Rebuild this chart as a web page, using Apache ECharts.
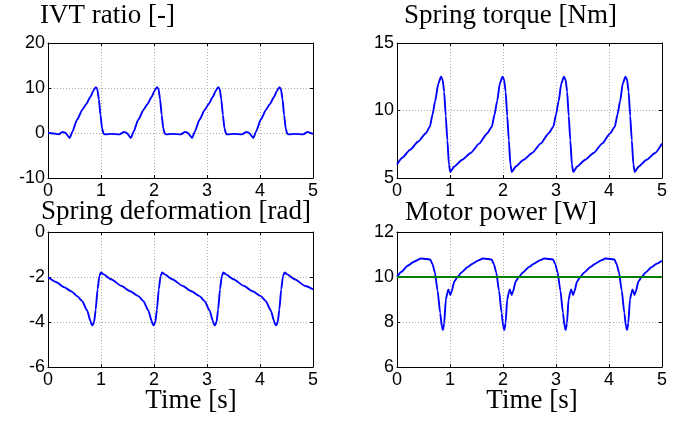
<!DOCTYPE html>
<html>
<head>
<meta charset="utf-8">
<script src="https://cdn.jsdelivr.net/npm/echarts@6/dist/echarts.min.js"></script>
<style>
  html, body { margin: 0; padding: 0; background: #fff; }
  #chart { width: 688px; height: 426px; }
</style>
</head>
<body>
<div id="chart"></div>
<script>
// time ticks shared by all four panels
const timeTicks = [0, 1, 2, 3, 4, 5]

// IVT ratio [-]
const ivtTicks = [-10, 0, 10, 20]
const ivtTime = [
  0, 0.1, 0.2, 0.28, 0.33, 0.41, 0.46, 0.55, 0.65, 0.72, 0.8, 0.85, 0.9, 0.93, 0.96, 0.99, 1.02, 1.05, 1.08, 1.2, 1.35,
  1.435, 1.485, 1.565, 1.615, 1.705, 1.805, 1.875, 1.955, 2.005, 2.055, 2.085, 2.115, 2.145, 2.175, 2.205, 2.235, 2.355, 2.505,
  2.59, 2.64, 2.72, 2.77, 2.86, 2.96, 3.03, 3.11, 3.16, 3.21, 3.24, 3.27, 3.3, 3.33, 3.36, 3.39, 3.51, 3.66,
  3.745, 3.795, 3.875, 3.925, 4.015, 4.115, 4.185, 4.265, 4.315, 4.365, 4.395, 4.425, 4.455, 4.485, 4.515, 4.545, 4.665, 4.815,
  4.9, 4.95, 5.0
]
const ivtValue = [
  0, -0.1, -0.3, 0.25, 0, -1.1, 0.3, 3.0, 5.2, 6.4, 8.0, 9.3, 10.2, 9.8, 7.5, 4.0, 1.0, -0.2, -0.3, -0.2, -0.3,
  0.25, 0, -1.1, 0.3, 3.0, 5.2, 6.4, 8.0, 9.3, 10.2, 9.8, 7.5, 4.0, 1.0, -0.2, -0.3, -0.2, -0.3,
  0.25, 0, -1.1, 0.3, 3.0, 5.2, 6.4, 8.0, 9.3, 10.2, 9.8, 7.5, 4.0, 1.0, -0.2, -0.3, -0.2, -0.3,
  0.25, 0, -1.1, 0.3, 3.0, 5.2, 6.4, 8.0, 9.3, 10.2, 9.8, 7.5, 4.0, 1.0, -0.2, -0.3, -0.2, -0.3,
  0.25, 0, -0.2
]

// Spring torque [Nm]
const torqueTicks = [5, 10, 15]
const torqueTime = [
  0, 0.1, 0.25, 0.4, 0.54, 0.62, 0.67, 0.72, 0.78, 0.83,
  0.86, 0.89, 0.92, 0.95, 0.98, 1.005, 1.08, 1.23, 1.39, 1.55, 1.7, 1.79, 1.84, 1.89, 1.94, 1.99,
  2.02, 2.05, 2.08, 2.11, 2.14, 2.165, 2.24, 2.39, 2.55, 2.71, 2.86, 2.95, 3.0, 3.05, 3.1, 3.15,
  3.18, 3.21, 3.24, 3.27, 3.3, 3.325, 3.4, 3.55, 3.71, 3.87, 4.02, 4.11, 4.16, 4.21, 4.26, 4.31,
  4.34, 4.37, 4.4, 4.43, 4.46, 4.485, 4.56, 4.71, 4.87, 5.0
]
const torqueValue = [
  6.0, 6.5, 7.1, 7.7, 8.3, 8.8, 9.7, 10.7, 12.0, 12.5,
  12.3, 11.4, 9.6, 7.8, 6.0, 5.45, 5.85, 6.35, 6.85, 7.55, 8.3, 8.8, 9.7, 10.7, 12.0, 12.5,
  12.3, 11.4, 9.6, 7.8, 6.0, 5.45, 5.85, 6.35, 6.85, 7.55, 8.3, 8.8, 9.7, 10.7, 12.0, 12.5,
  12.3, 11.4, 9.6, 7.8, 6.0, 5.45, 5.85, 6.35, 6.85, 7.55, 8.3, 8.8, 9.7, 10.7, 12.0, 12.5,
  12.3, 11.4, 9.6, 7.8, 6.0, 5.45, 5.85, 6.35, 6.85, 7.55
]

// Spring deformation [rad]
const deformTicks = [-6, -4, -2, 0]
const deformTime = [
  0, 0.15, 0.3, 0.45, 0.55, 0.645, 0.74, 0.8, 0.82, 0.84,
  0.87, 0.9, 0.935, 0.97, 1.0, 1.04, 1.19, 1.39, 1.54, 1.705, 1.8, 1.895, 1.955, 1.975, 1.995,
  2.025, 2.055, 2.09, 2.125, 2.155, 2.195, 2.345, 2.545, 2.695, 2.86, 2.955, 3.05, 3.11, 3.13, 3.15,
  3.18, 3.21, 3.245, 3.28, 3.31, 3.35, 3.5, 3.7, 3.85, 4.015, 4.11, 4.205, 4.265, 4.285, 4.305,
  4.335, 4.365, 4.4, 4.435, 4.465, 4.505, 4.655, 4.855, 5.0
]
const deformValue = [
  -2.0, -2.22, -2.45, -2.65, -2.85, -3.07, -3.5, -3.95, -4.1, -4.15,
  -4.0, -3.45, -2.55, -1.95, -1.8, -1.87, -2.1, -2.4, -2.62, -2.85, -3.07, -3.5, -3.95, -4.1, -4.15,
  -4.0, -3.45, -2.55, -1.95, -1.8, -1.87, -2.1, -2.4, -2.62, -2.85, -3.07, -3.5, -3.95, -4.1, -4.15,
  -4.0, -3.45, -2.55, -1.95, -1.8, -1.87, -2.1, -2.4, -2.62, -2.85, -3.07, -3.5, -3.95, -4.1, -4.15,
  -4.0, -3.45, -2.55, -1.95, -1.8, -1.87, -2.1, -2.4, -2.55
]

// Motor power [W]
const powerTicks = [6, 8, 10, 12]
const powerTime = [
  0, 0.08, 0.2, 0.32, 0.45, 0.55, 0.626, 0.67, 0.715, 0.765, 0.815, 0.845, 0.866,
  0.891, 0.921, 0.956, 0.971, 1.006, 1.031, 1.081, 1.141, 1.216, 1.336, 1.416, 1.546, 1.616, 1.716, 1.786, 1.828, 1.873, 1.924, 1.974, 2.004, 2.024,
  2.049, 2.079, 2.114, 2.129, 2.164, 2.189, 2.239, 2.299, 2.374, 2.494, 2.574, 2.704, 2.774, 2.874, 2.944, 2.986, 3.031, 3.082, 3.132, 3.162, 3.182,
  3.207, 3.237, 3.272, 3.287, 3.322, 3.347, 3.397, 3.457, 3.532, 3.652, 3.732, 3.862, 3.932, 4.032, 4.102, 4.144, 4.189, 4.24, 4.29, 4.32, 4.34,
  4.365, 4.395, 4.43, 4.445, 4.48, 4.505, 4.555, 4.615, 4.69, 4.81, 4.89, 5.0
]
const powerValue = [
  10.0, 10.22, 10.5, 10.68, 10.82, 10.8, 10.78, 10.57, 10.2, 9.4, 8.4, 7.8, 7.65,
  7.95, 9.0, 9.35, 9.45, 9.2, 9.35, 9.8, 10.0, 10.2, 10.45, 10.58, 10.75, 10.82, 10.8, 10.78, 10.57, 10.2, 9.4, 8.4, 7.8, 7.65,
  7.95, 9.0, 9.35, 9.45, 9.2, 9.35, 9.8, 10.0, 10.2, 10.45, 10.58, 10.75, 10.82, 10.8, 10.78, 10.57, 10.2, 9.4, 8.4, 7.8, 7.65,
  7.95, 9.0, 9.35, 9.45, 9.2, 9.35, 9.8, 10.0, 10.2, 10.45, 10.58, 10.75, 10.82, 10.8, 10.78, 10.57, 10.2, 9.4, 8.4, 7.8, 7.65,
  7.95, 9.0, 9.35, 9.45, 9.2, 9.35, 9.8, 10.0, 10.2, 10.45, 10.58, 10.72
]
const referenceTime = [0, 5]
const referenceValue = [10, 10]

const panelTitles = ['IVT ratio [-]', 'Spring torque [Nm]', 'Spring deformation [rad]', 'Motor power [W]']
const xLabel = 'Time [s]'

const zip = (t, v) => t.map((x, i) => [x, v[i]])

const serif = '"Liberation Serif", "Times New Roman", serif'
const sans = '"Liberation Sans", Arial, sans-serif'

const grids = [
  { left: 48, top: 43, width: 265, height: 135 },
  { left: 397, top: 43, width: 265, height: 135 },
  { left: 48, top: 232, width: 265, height: 135 },
  { left: 397, top: 232, width: 265, height: 135 }
]
const yTicksPerPanel = [ivtTicks, torqueTicks, deformTicks, powerTicks]

const xAxes = []
const yAxes = []
grids.forEach((g, i) => {
  const ticks = yTicksPerPanel[i]
  const lineStyle = { color: '#000', width: 1 }
  const frame = { show: true, onZero: false, lineStyle }
  const tick = { show: true, inside: true, length: 3, lineStyle }
  const grid = { show: true, lineStyle: { color: '#aaa', type: [1, 2], width: 1 } }
  xAxes.push({
    type: 'value', gridIndex: i, position: 'bottom',
    min: timeTicks[0], max: timeTicks[timeTicks.length - 1], interval: timeTicks[1] - timeTicks[0],
    axisLine: frame, axisTick: tick,
    axisLabel: { color: '#000', fontFamily: sans, fontSize: 18, margin: 4 },
    splitLine: grid
  })
  xAxes.push({
    type: 'value', gridIndex: i, position: 'top',
    min: timeTicks[0], max: timeTicks[timeTicks.length - 1], interval: timeTicks[1] - timeTicks[0],
    axisLine: frame, axisTick: tick,
    axisLabel: { show: false },
    splitLine: { show: false }
  })
  yAxes.push({
    type: 'value', gridIndex: i, position: 'left',
    min: ticks[0], max: ticks[ticks.length - 1], interval: ticks[1] - ticks[0],
    axisLine: frame, axisTick: tick,
    axisLabel: { color: '#000', fontFamily: sans, fontSize: 18, margin: 3 },
    splitLine: grid
  })
  yAxes.push({
    type: 'value', gridIndex: i, position: 'right',
    min: ticks[0], max: ticks[ticks.length - 1], interval: ticks[1] - ticks[0],
    axisLine: frame, axisTick: tick,
    axisLabel: { show: false },
    splitLine: { show: false }
  })
})

const lineSeries = (i, data, color) => ({
  type: 'line',
  xAxisIndex: i * 2,
  yAxisIndex: i * 2,
  data,
  showSymbol: false,
  smooth: 0.2,
  smoothMonotone: 'x',
  lineStyle: { color, width: 1.9 },
  silent: true,
  z: 3
})

const titleText = (text, x, y, align) => ({
  type: 'text',
  x, y,
  style: {
    text,
    fill: '#000',
    font: '27px ' + serif,
    textAlign: align || 'left',
    textVerticalAlign: 'middle'
  }
})

const option = {
  animation: false,
  backgroundColor: '#fff',
  grid: grids,
  xAxis: xAxes,
  yAxis: yAxes,
  series: [
    lineSeries(0, zip(ivtTime, ivtValue), '#0000ff'),
    lineSeries(1, zip(torqueTime, torqueValue), '#0000ff'),
    lineSeries(2, zip(deformTime, deformValue), '#0000ff'),
    lineSeries(3, zip(powerTime, powerValue), '#0000ff'),
    lineSeries(3, zip(referenceTime, referenceValue), '#008000')
  ],
  graphic: [
    titleText(panelTitles[0], 40, 16),
    titleText(panelTitles[1], 404, 16),
    titleText(panelTitles[2], 41, 212),
    titleText(panelTitles[3], 405, 213),
    titleText(xLabel, 191, 401, 'center'),
    titleText(xLabel, 532, 401, 'center')
  ]
}

const chart = echarts.init(document.getElementById('chart'))
chart.setOption(option)
</script>
</body>
</html>
